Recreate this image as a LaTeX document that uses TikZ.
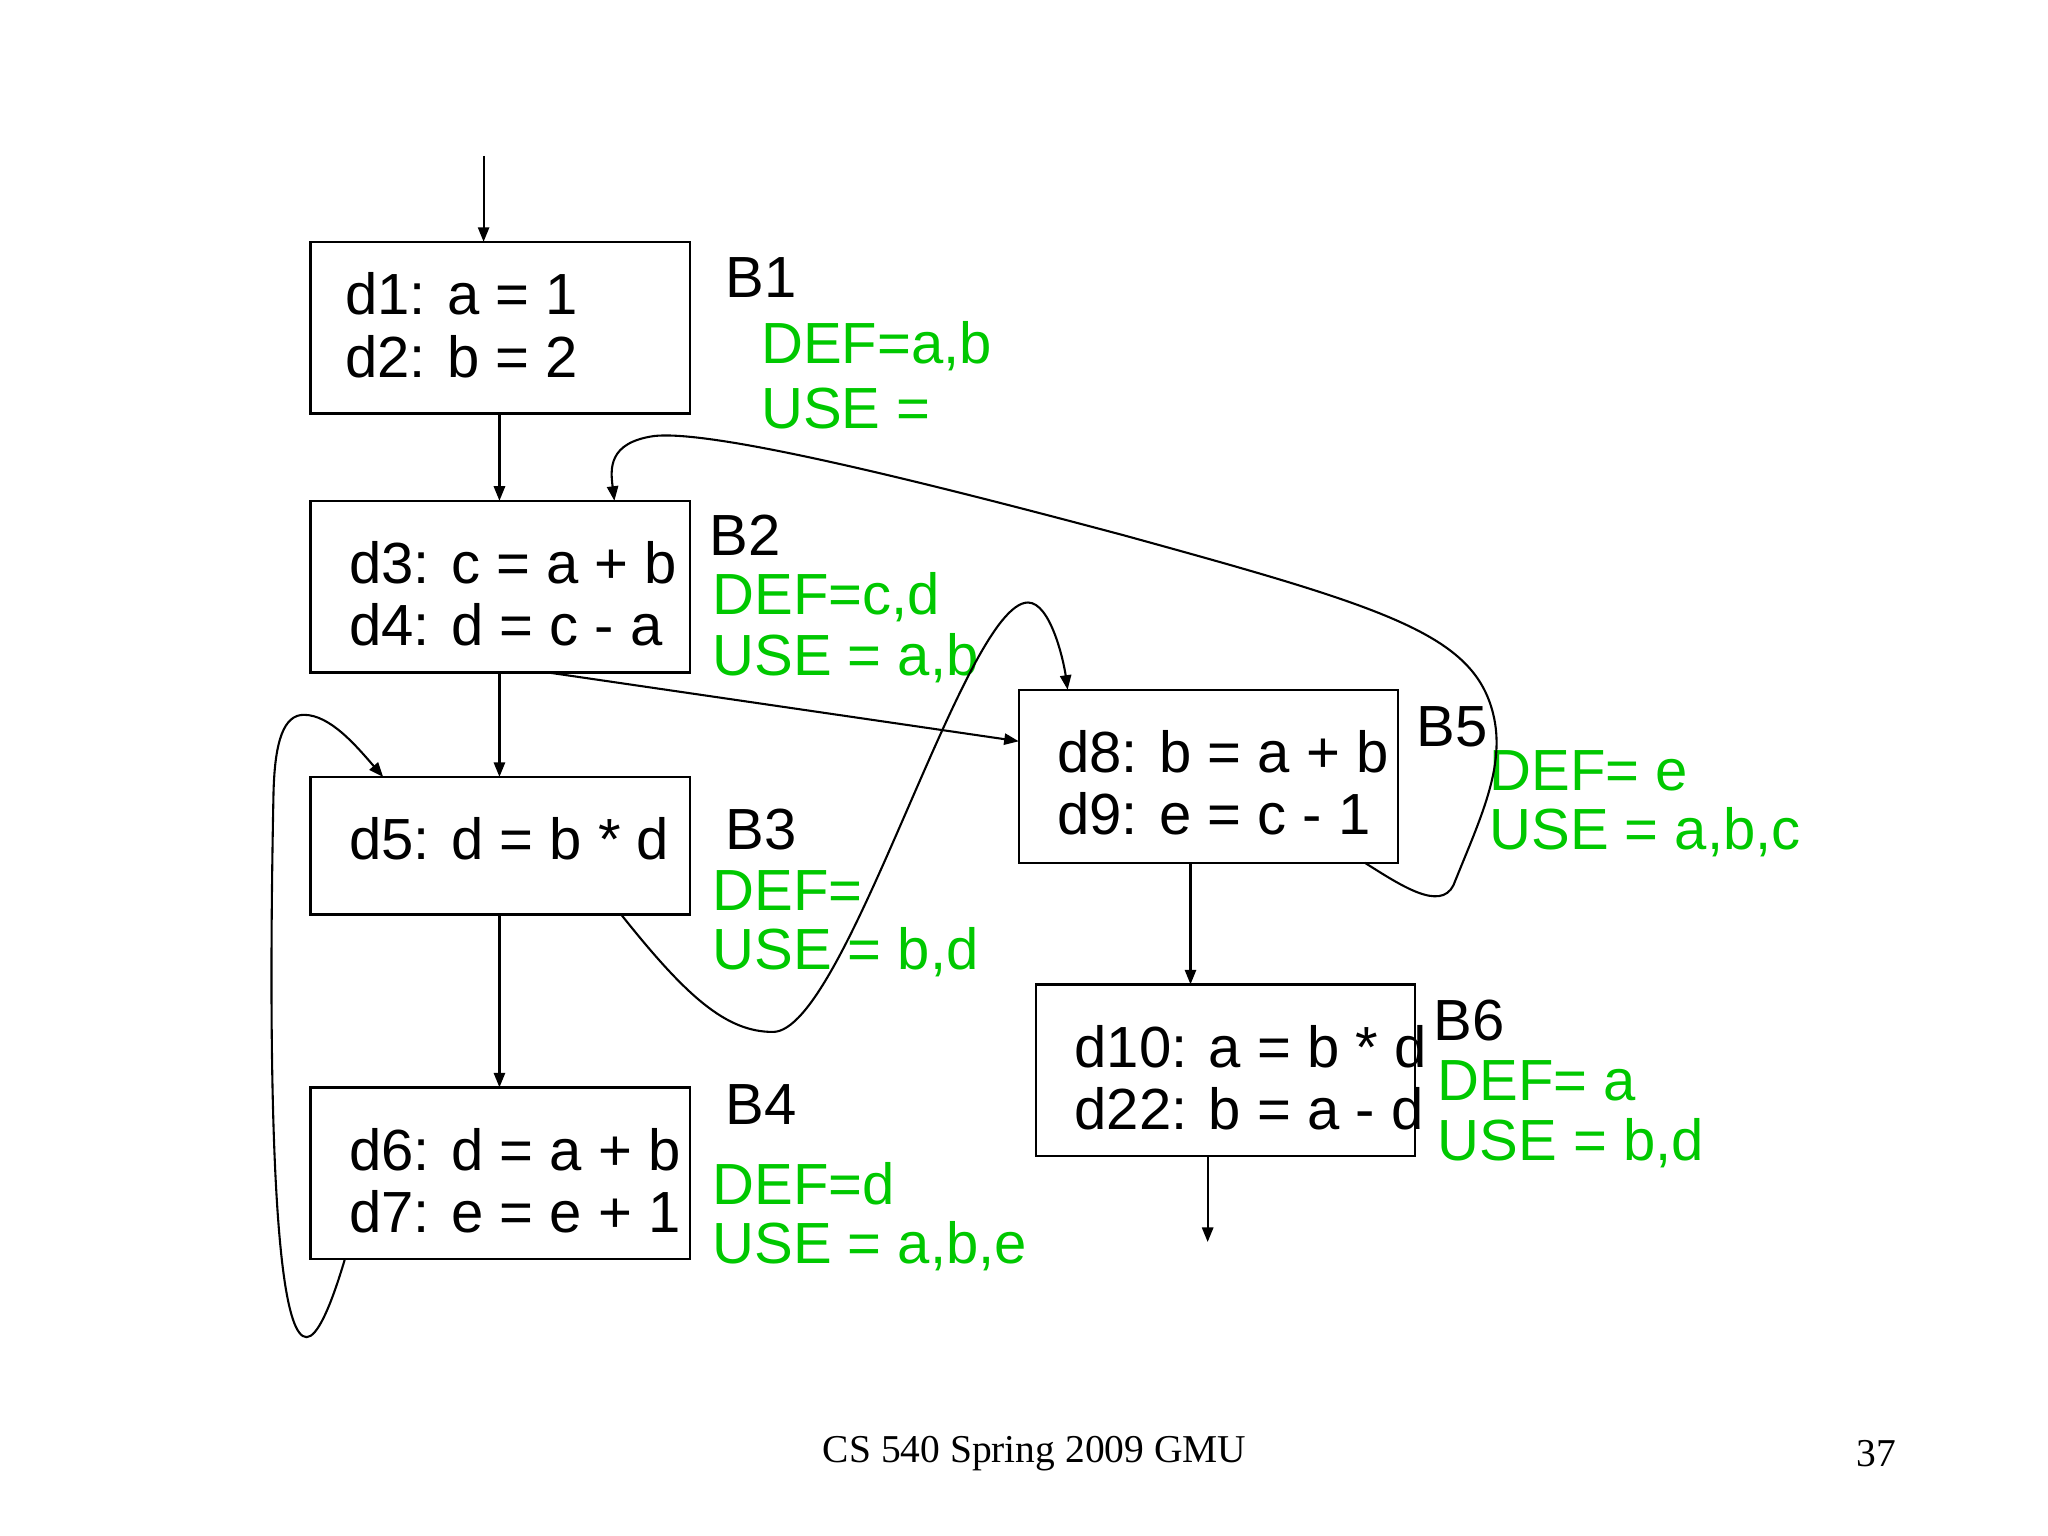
\documentclass[tikz,border=0pt]{standalone}
\usepackage{fontspec}
\setmainfont{Liberation Sans}
\newfontfamily\serifft{Liberation Serif}
\usetikzlibrary{arrows.meta}
\definecolor{grn}{RGB}{0,200,0}
\begin{document}
\begin{tikzpicture}[x=0.02cm,y=-0.02cm,
  box/.style={draw,line width=1pt,inner sep=0},
  code/.style={anchor=west,font=\fontsize{25}{30}\selectfont,align=left},
  lab/.style={anchor=west,font=\fontsize{25}{30}\selectfont},
  info/.style={anchor=west,font=\fontsize{25}{30}\selectfont,text=grn},
  arr/.style={line width=0.9pt,-{Triangle[length=0.22cm,width=0.17cm]}}]
\useasboundingbox (0,0) rectangle (1550,1162);
\draw[box] (235,183) rectangle (522,313);
\draw[box] (235,379) rectangle (522,509);
\draw[box] (235,588) rectangle (522,692);
\draw[box] (235,823) rectangle (522,953);
\draw[box] (771,522) rectangle (1058,653);
\draw[box] (784,745) rectangle (1071,875);
\node[code] (t1) at (255,222) {d1: a = 1};
\node[code] (t2) at (255,270) {d2: b = 2};
\node[code] (t3) at (258,426) {d3: c = a + b};
\node[code] (t4) at (258,473) {d4: d = c - a};
\node[code] (t5) at (258,635) {d5: d = b * d};
\node[code] (t6) at (258,870) {d6: d = a + b};
\node[code] (t7) at (258,917) {d7: e = e + 1};
\node[code] (t8) at (794,569) {d8: b = a + b};
\node[code] (t9) at (794,616) {d9: e = c - 1};
\node[code] (t10) at (807,792) {d10: a = b * d};
\node[code] (t22) at (807,839) {d22: b = a - d};
\node[lab] (B1) at (543,210) {B1};
\node[info] (D1) at (570,262) {DEF=a,b};
\node[info] (U1) at (570,309) {USE =};
\node[lab] (B2) at (531,405) {B2};
\node[info] (D2) at (533,452) {DEF=c,d};
\node[info] (U2) at (533,498) {USE = a,b};
\node[lab] (B3) at (543,628) {B3};
\node[info] (D3) at (533,674) {DEF=};
\node[info] (U3) at (533,721) {USE = b,d};
\node[lab] (B4) at (543,836) {B4};
\node[info] (D4) at (533,896) {DEF=d};
\node[info] (U4) at (533,943) {USE = a,b,e};
\node[lab] (B5) at (1066,550) {B5};
\node[info] (D5) at (1121,583) {DEF= e};
\node[info] (U5) at (1121,630) {USE = a,b,c};
\node[lab] (B6) at (1079,772) {B6};
\node[info] (D6) at (1082,818) {DEF= a};
\node[info] (U6) at (1082,865) {USE = b,d};
\node[font=\serifft\fontsize{17}{20}\selectfont] (ft) at (783,1100) {CS 540 Spring 2009 GMU};
\node[font=\serifft\fontsize{17}{20}\selectfont] (pg) at (1420,1100) {37};
\draw[arr] (366,118) -- (366,183);
\draw[arr] (378,313) -- (378,379);
\draw[arr] (378,509) -- (378,588);
\draw[arr] (378,692) -- (378,823);
\draw[arr] (415,509) -- (771,561);
\draw[arr] (901,653) -- (901,745);
\draw[arr] (914,875) -- (914,940);
\draw[arr] (470,692) .. controls (520,755) and (550,781) .. (585,781)
  .. controls (640,781) and (730,456) .. (778,456)
  .. controls (795,456) and (805,500) .. (808,522);
\draw[arr] (261,953) .. controls (250,990) and (240,1012) .. (232,1012)
  .. controls (200,1012) and (205,700) .. (207,600)
  .. controls (208,560) and (215,541) .. (230,541)
  .. controls (250,541) and (270,565) .. (290,588);
\draw[arr] (1033,653) .. controls (1060,670) and (1090,690) .. (1100,670)
  .. controls (1120,620) and (1140,580) .. (1130,540)
  .. controls (1115,480) and (1050,460) .. (850,405)
  .. controls (700,365) and (540,325) .. (495,330)
  .. controls (460,335) and (462,355) .. (465,379);
\end{tikzpicture}
\end{document}
